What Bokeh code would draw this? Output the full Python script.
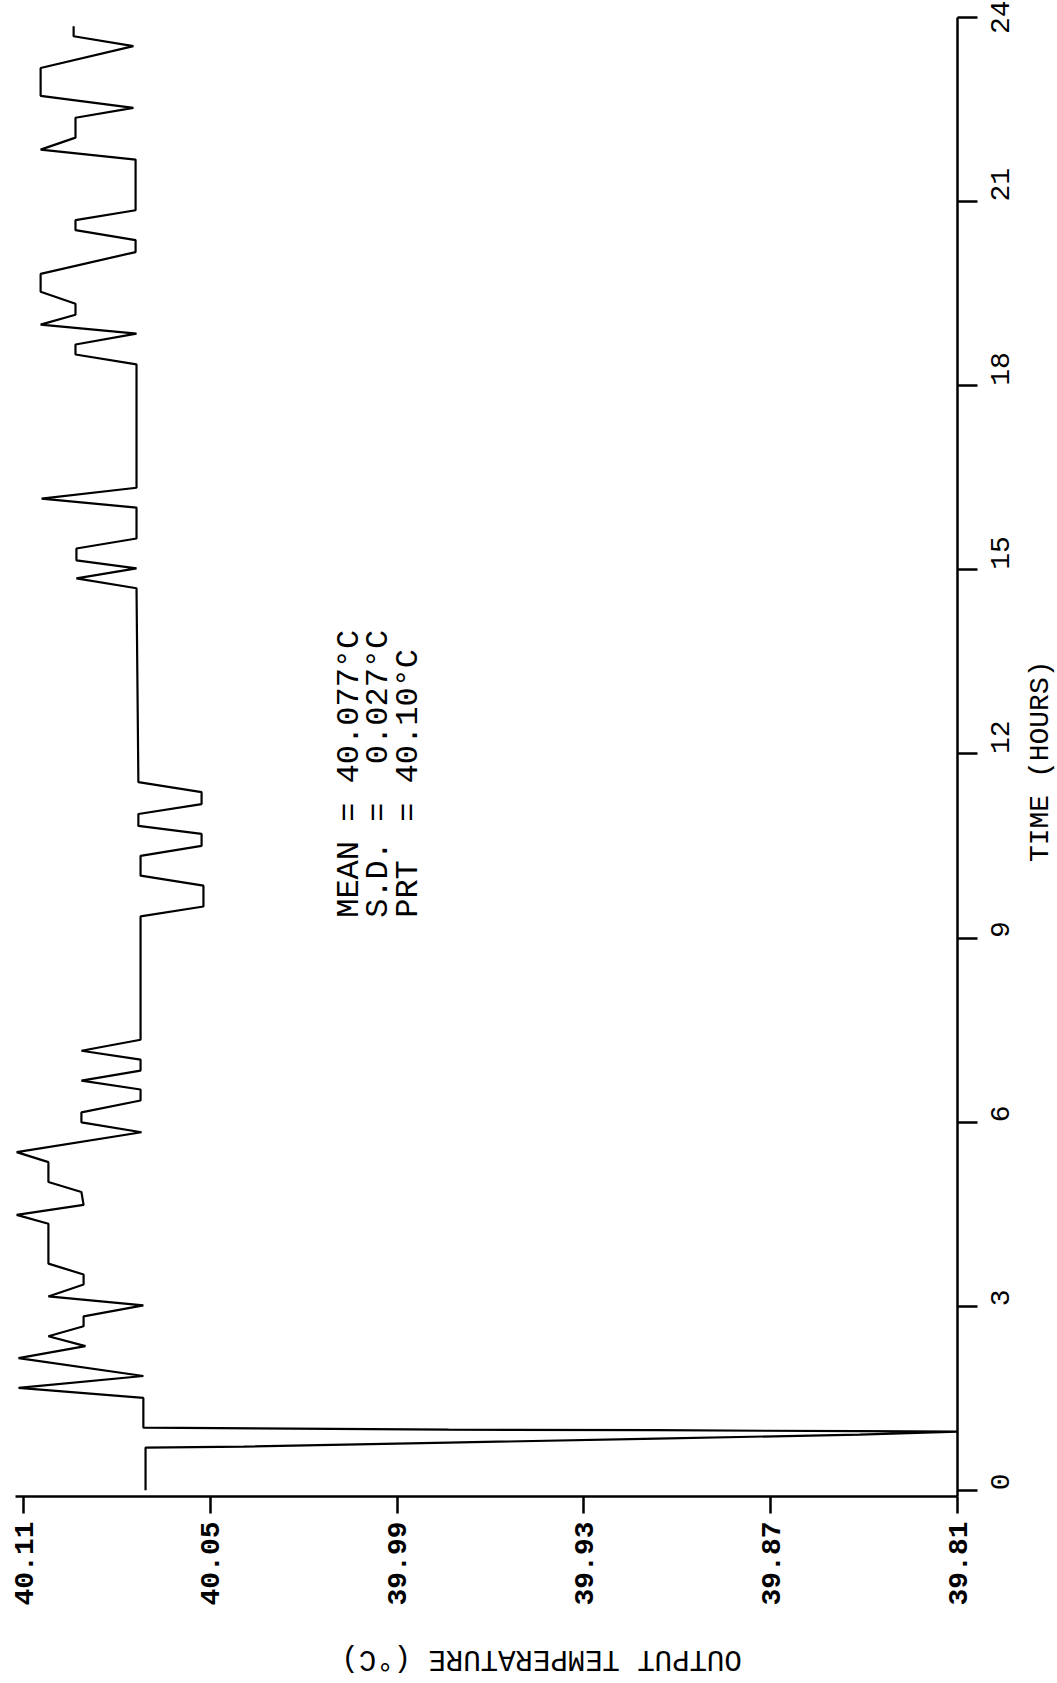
import math
from bokeh.plotting import figure
from bokeh.layouts import row, column
from bokeh.models import Range1d, FixedTicker, NumeralTickFormatter
from bokeh.core.properties import value
from bokeh.embed import file_html
from bokeh.resources import INLINE

# ---- data (time in hours, output temperature in deg C) ----
time_h = [
    0.000, 0.697, 0.713, 0.778, 0.843, 0.908, 0.956, 0.964, 0.980, 0.989,
    1.021, 1.507, 1.669, 1.864, 2.156, 2.350, 2.512, 2.674, 2.836, 3.015,
    3.160, 3.355, 3.517, 3.695, 4.344, 4.489, 4.652, 4.862, 5.024, 5.348,
    5.511, 5.835, 5.997, 6.159, 6.353, 6.532, 6.677, 6.840, 7.018, 7.164,
    7.342, 9.352, 9.514, 9.854, 10.016, 10.340, 10.502, 10.697, 10.827, 11.021,
    11.183, 11.378, 11.540, 14.700, 14.862, 15.024, 15.154, 15.348, 15.511, 16.013,
    16.159, 16.337, 18.347, 18.509, 18.671, 18.849, 18.995, 19.157, 19.335, 19.530,
    19.822, 20.178, 20.373, 20.535, 20.697, 20.859, 21.685, 21.847, 22.042, 22.366,
    22.528, 22.723, 23.177, 23.533, 23.695, 23.857,
]
temp_c = [
    40.0708, 40.0708, 40.0393, 39.9735, 39.9067, 39.8415, 39.8100, 39.8415, 39.9067, 39.9735,
    40.0715, 40.0715, 40.1116, 40.0715, 40.1116, 40.0901, 40.1020, 40.0907, 40.0907, 40.0715,
    40.1020, 40.0907, 40.0907, 40.1020, 40.1020, 40.1122, 40.0907, 40.0914, 40.1020, 40.1020,
    40.1122, 40.0721, 40.0914, 40.0914, 40.0724, 40.0724, 40.0914, 40.0724, 40.0724, 40.0914,
    40.0724, 40.0724, 40.0522, 40.0522, 40.0724, 40.0724, 40.0528, 40.0528, 40.0731, 40.0731,
    40.0528, 40.0528, 40.0731, 40.0737, 40.0930, 40.0737, 40.0930, 40.0930, 40.0737, 40.0737,
    40.1042, 40.0737, 40.0737, 40.0933, 40.0933, 40.0737, 40.1045, 40.0933, 40.0933, 40.1045,
    40.1045, 40.0740, 40.0740, 40.0933, 40.0933, 40.0740, 40.0740, 40.1045, 40.0933, 40.0933,
    40.0747, 40.1045, 40.1045, 40.0747, 40.0939, 40.0939,
]

temp_ticks = [40.11, 40.05, 39.99, 39.93, 39.87, 39.81]
time_ticks = [0, 3, 6, 9, 12, 15, 18, 21, 24]
NB = "\u00a0"
stats_lines = [
    "MEAN = 40.077\u00b0C",
    "S.D. =" + NB + NB + "0.027\u00b0C",
    "PRT" + NB + NB + "= 40.10\u00b0C",
]
time_title = "TIME (HOURS)"
temp_title = "OUTPUT TEMPERATURE (\u00b0C)"

FONT = "Liberation Mono"

x_rng = Range1d(40.11257, 39.81)
y_rng = Range1d(-0.1, 24)


def bare(fig):
    fig.xgrid.visible = False
    fig.ygrid.visible = False
    fig.outline_line_color = None
    fig.background_fill_color = "white"
    fig.border_fill_color = "white"


# ---- main plot ----
p = figure(
    width=1022, height=1636, x_range=x_rng, y_range=y_rng,
    output_backend="svg", toolbar_location=None,
    x_axis_location="below", y_axis_location="right",
    min_border_left=15, min_border_right=65, min_border_top=17, min_border_bottom=140,
)
bare(p)

xa = p.xaxis[0]
xa.ticker = FixedTicker(ticks=temp_ticks)
xa.formatter = NumeralTickFormatter(format="0.00")
xa.major_label_orientation = math.pi / 2
xa.major_tick_out = 17
xa.major_tick_in = 0
xa.minor_tick_out = 0
xa.minor_tick_in = 0
xa.axis_line_width = 2.5
xa.axis_line_color = "black"
xa.major_tick_line_width = 2.5
xa.major_tick_line_color = "black"
xa.major_label_standoff = 8
xa.major_label_text_font = FONT
xa.major_label_text_font_size = "28px"
xa.major_label_text_font_style = "bold"
xa.major_label_text_color = "black"

ya = p.yaxis[0]
ya.ticker = FixedTicker(ticks=time_ticks)
ya.major_label_orientation = math.pi / 2
ya.major_tick_out = 20
ya.major_tick_in = 0
ya.minor_tick_out = 0
ya.minor_tick_in = 0
ya.axis_line_width = 2.5
ya.axis_line_color = "black"
ya.major_tick_line_width = 2.5
ya.major_tick_line_color = "black"
ya.major_label_standoff = 23
ya.major_label_text_font = FONT
ya.major_label_text_font_size = "28px"
ya.major_label_text_color = "black"

p.line(x=temp_c, y=time_h, line_color="black", line_width=2.2)

p.text(
    x=[40.0053, 39.9960, 39.9863], y=[9.33, 9.33, 9.33], text=stats_lines,
    angle=math.pi / 2, text_align="left", text_baseline="middle",
    text_font=value(FONT), text_font_size="32px", text_color="black",
)

# ---- strip to the right holding the time-axis title ----
p_right = figure(
    width=35, height=1636, x_range=Range1d(0, 1), y_range=y_rng,
    output_backend="svg", toolbar_location=None,
    x_axis_location=None, y_axis_location=None,
    min_border_left=0, min_border_right=0, min_border_top=17, min_border_bottom=140,
)
bare(p_right)
p_right.text(
    x=[0.5], y=[11.88], text=[time_title], angle=math.pi / 2,
    text_align="center", text_baseline="middle",
    text_font=value(FONT), text_font_size="28px", text_color="black",
)

# ---- strip below holding the temperature-axis title (upside down as in the original) ----
p_bottom = figure(
    width=1052, height=44, x_range=x_rng, y_range=Range1d(0, 1),
    output_backend="svg", toolbar_location=None,
    x_axis_location=None, y_axis_location=None,
    min_border_left=15, min_border_right=95, min_border_top=0, min_border_bottom=0,
)
bare(p_bottom)
p_bottom.text(
    x=[39.9436], y=[0.5], text=[temp_title], angle=math.pi,
    text_align="center", text_baseline="middle",
    text_font=value(FONT), text_font_size="29px", text_color="black",
)

layout = column(row(p, p_right, spacing=0), p_bottom, spacing=0)

open("out.html", "w").write(file_html(layout, INLINE))
